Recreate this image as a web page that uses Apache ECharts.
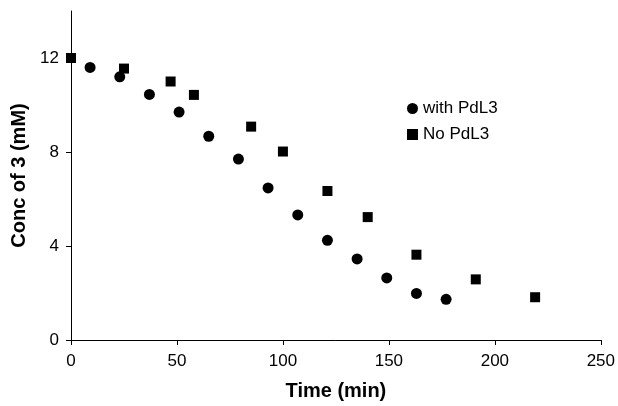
<!DOCTYPE html>
<html>
<head>
<meta charset="utf-8">
<script src="https://cdn.jsdelivr.net/npm/echarts@6/dist/echarts.min.js"></script>
<style>html,body{margin:0;padding:0;background:#fff}#c{width:618px;height:406px}</style>
</head>
<body>
<div id="c"></div>
<script>
const withTime = [9, 23, 37, 51, 65, 79, 93, 107, 121, 135, 149, 163, 177];
const withConc = [11.6, 11.2, 10.45, 9.7, 8.67, 7.7, 6.47, 5.32, 4.24, 3.45, 2.64, 1.98, 1.73];
const noTime = [0, 25, 47, 58, 85, 100, 121, 140, 163, 191, 219];
const noConc = [12.0, 11.55, 11.0, 10.43, 9.08, 8.02, 6.34, 5.23, 3.63, 2.58, 1.82];
const yTicks = [0, 4, 8, 12];
const xTicks = [0, 50, 100, 150, 200, 250];

const chart = echarts.init(document.getElementById('c'), null, {renderer: 'canvas'});
const font = 'Liberation Sans, Arial, sans-serif';
chart.setOption({
  animation: false,
  backgroundColor: '#fff',
  grid: {left: 71, right: 17, top: 11, bottom: 63, containLabel: false},
  legend: {
    orient: 'vertical', left: 402, top: 95, itemGap: 9,
    itemWidth: 11, itemHeight: 11, itemTextGap: 6,
    textStyle: {fontFamily: font, fontSize: 17, color: '#000'},
    data: [{name: 'with PdL3', icon: 'circle'}, {name: 'No PdL3', icon: 'rect'}]
  },
  xAxis: {
    type: 'value', min: 0, max: 250, interval: 50,
    name: 'Time (min)', nameLocation: 'middle', nameGap: 41,
    nameTextStyle: {fontFamily: font, fontSize: 20, fontWeight: 'bold', color: '#000'},
    axisLine: {onZero: false, lineStyle: {color: '#000', width: 1}},
    axisTick: {show: true, length: 5, lineStyle: {color: '#000'}, customValues: xTicks},
    axisLabel: {fontFamily: font, fontSize: 17, color: '#000', margin: 13, customValues: xTicks},
    splitLine: {show: false}
  },
  yAxis: {
    type: 'value', min: 0, max: 14,
    name: 'Conc of 3 (mM)', nameLocation: 'middle', nameGap: 33,
    nameTextStyle: {fontFamily: font, fontSize: 20, fontWeight: 'bold', color: '#000'},
    axisLine: {show: true, lineStyle: {color: '#000', width: 1}},
    axisTick: {show: true, length: 5, lineStyle: {color: '#000'}, customValues: yTicks},
    axisLabel: {fontFamily: font, fontSize: 17, color: '#000', margin: 12, customValues: yTicks},
    splitLine: {show: false}
  },
  series: [
    {
      name: 'No PdL3', type: 'scatter', symbol: 'rect', symbolSize: 10,
      itemStyle: {color: '#000', opacity: 1},
      data: noTime.map((t, i) => [t, noConc[i]])
    },
    {
      name: 'with PdL3', type: 'scatter', symbol: 'circle', symbolSize: 11,
      itemStyle: {color: '#000', opacity: 1},
      data: withTime.map((t, i) => [t, withConc[i]])
    }
  ]
});
</script>
</body>
</html>
